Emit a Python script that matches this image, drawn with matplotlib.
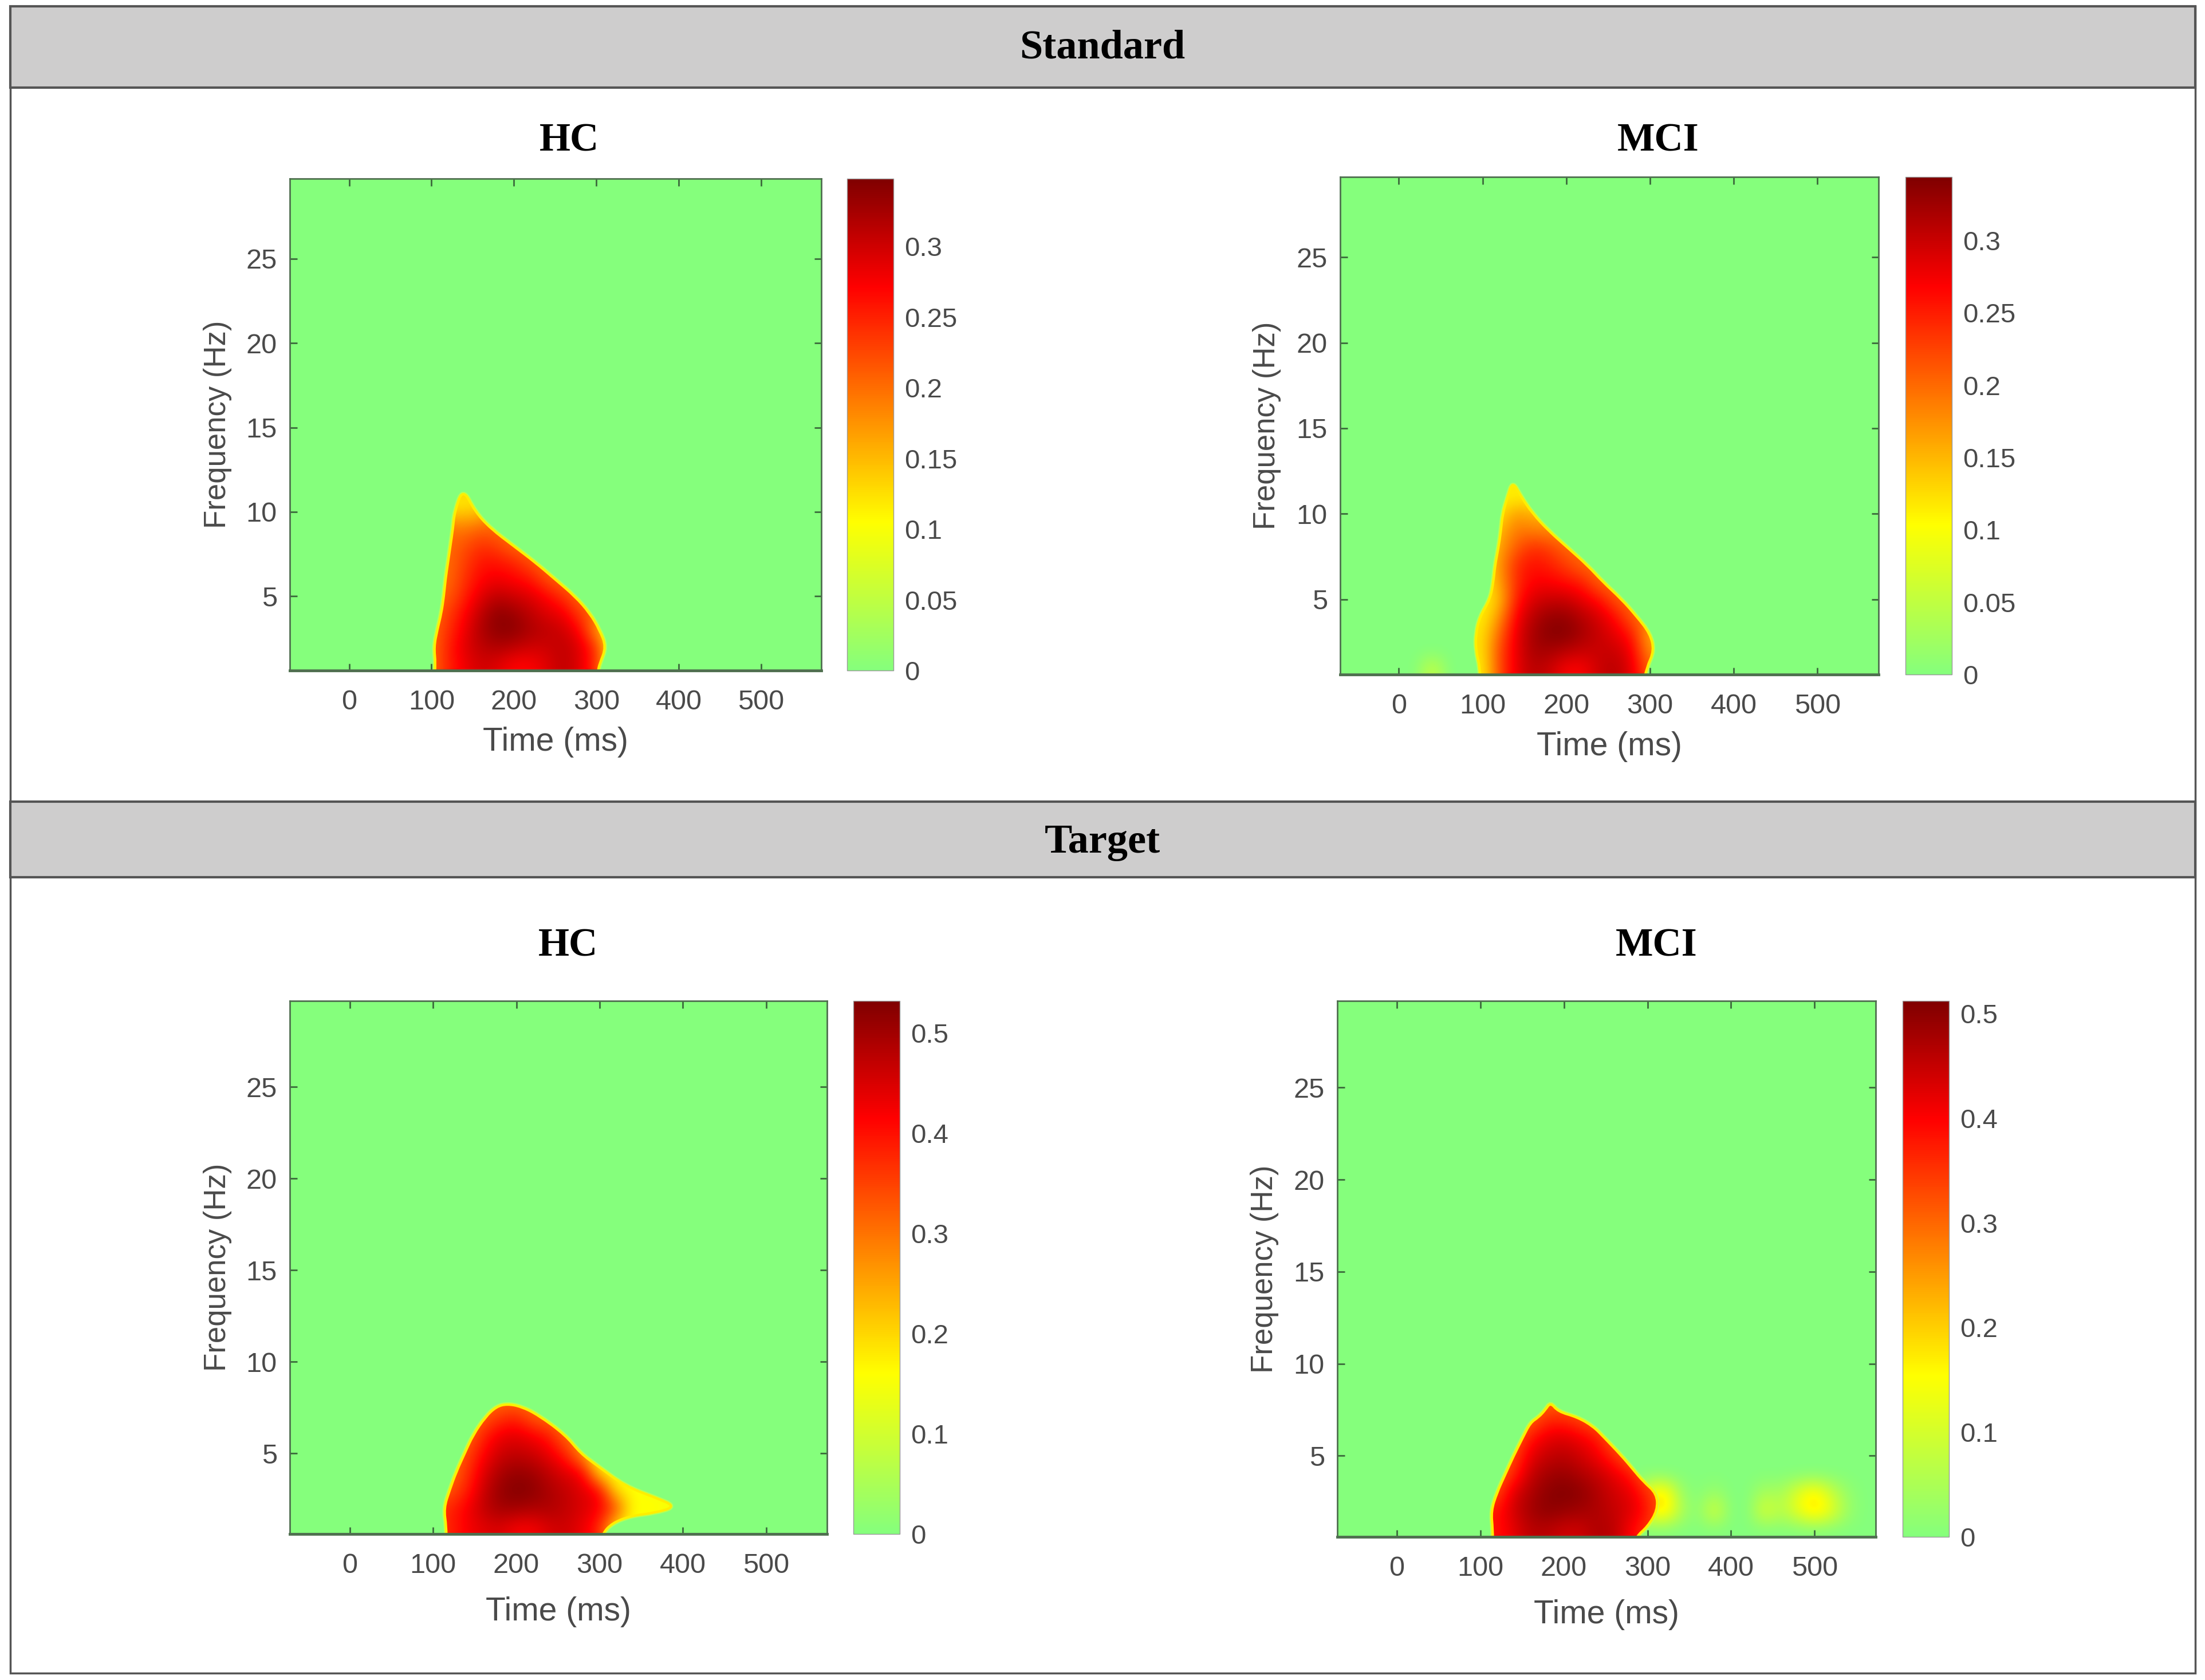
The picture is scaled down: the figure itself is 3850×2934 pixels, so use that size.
import numpy as np
import matplotlib
matplotlib.use('Agg')
import matplotlib.pyplot as plt
from matplotlib.colors import LinearSegmentedColormap
from matplotlib.patches import PathPatch, Rectangle
from matplotlib.path import Path

sections = ['Standard', 'Target']
groups = ['HC', 'MCI', 'HC', 'MCI']

time_ticks = [0, 100, 200, 300, 400, 500]
freq_ticks = [5, 10, 15, 20, 25]
time_limits = [(-72, 573), (-70, 573), (-72, 573), (-71, 573)]
freq_limits = [(0.6, 29.75), (0.6, 29.7), (0.6, 29.7), (0.6, 29.7)]

cbar_tops = [0.348, 0.344, 0.532, 0.512]
cbar_ticks = [
    [0, 0.05, 0.1, 0.15, 0.2, 0.25, 0.3],
    [0, 0.05, 0.1, 0.15, 0.2, 0.25, 0.3],
    [0, 0.1, 0.2, 0.3, 0.4, 0.5],
    [0, 0.1, 0.2, 0.3, 0.4, 0.5],
]
cbar_labels = [
    ['0', '0.05', '0.1', '0.15', '0.2', '0.25', '0.3'],
    ['0', '0.05', '0.1', '0.15', '0.2', '0.25', '0.3'],
    ['0', '0.1', '0.2', '0.3', '0.4', '0.5'],
    ['0', '0.1', '0.2', '0.3', '0.4', '0.5'],
]

# power: one row per Hz from 1 Hz up, 20 ms steps from 100 ms
standard_hc = [
    [.20, .25, .28, .30, .29, .27, .27, .29, .31, .29, .24, .10, .10],
    [.20, .25, .29, .31, .32, .31, .30, .30, .31, .29, .24, .10, .10],
    [.20, .24, .28, .32, .34, .34, .32, .31, .30, .27, .17, .10, .10],
    [.20, .23, .27, .31, .34, .33, .31, .29, .28, .23],
    [.20, .21, .25, .29, .31, .30, .29, .27, .24],
    [.20, .20, .24, .27, .28, .27, .26, .22],
    [.20, .20, .23, .26, .26, .25, .22],
    [.20, .20, .22, .24, .23, .20],
    [.20, .20, .19, .21, .20],
    [.13, .13, .14, .14],
    [.11, .11, .11, .11],
]
standard_mci = [
    [.11, .22, .28, .31, .30, .27, .27, .30, .31, .28, .20, .20, .20],
    [.12, .22, .28, .32, .32, .31, .30, .30, .30, .27, .17, .17, .17],
    [.12, .20, .28, .32, .34, .34, .32, .30, .28, .25, .15, .15, .15],
    [.11, .17, .27, .31, .33, .33, .31, .29, .26, .20, .20, .20],
    [.11, .14, .25, .29, .30, .30, .28, .26, .21, .20, .20],
    [.11, .16, .24, .27, .27, .26, .25, .20, .20, .20],
    [.11, .17, .24, .26, .25, .23, .20, .20, .20],
    [.11, .16, .21, .24, .23, .20, .20, .20],
    [.11, .15, .19, .19, .18, .18, .18],
    [.11, .12, .17, .15, .15, .15],
    [.11, .11, .11, .11, .11],
]
target_hc = [
    [.36, .38, .42, .44, .45, .42, .42, .45, .46, .43, .38, .18, .15, .15, .15, .15],
    [.36, .38, .42, .47, .50, .50, .49, .49, .47, .45, .42, .35, .15, .17, .15, .15],
    [.30, .33, .38, .46, .51, .53, .52, .49, .47, .44, .42, .18, .16, .15, .15, .15],
    [.30, .30, .36, .44, .49, .51, .50, .47, .44, .42, .18, .15, .15, .15, .15, .15],
    [.30, .30, .34, .41, .46, .47, .46, .43, .38, .25, .15, .15, .15, .15, .15, .15],
    [.30, .30, .30, .38, .43, .44, .42, .39, .30],
    [.30, .30, .30, .32, .36, .38, .32, .30],
]
target_mci = [
    [.38, .38, .42, .46, .46, .44, .44, .47, .46, .40, .35],
    [.38, .38, .44, .48, .50, .49, .48, .47, .45, .43, .38, .30],
    [.30, .33, .43, .47, .50, .51, .50, .47, .44, .42, .36, .30],
    [.30, .30, .36, .45, .48, .49, .47, .45, .42, .38, .30],
    [.30, .30, .33, .42, .45, .46, .44, .41, .36, .30],
    [.30, .30, .30, .38, .42, .43, .41, .38, .30],
    [.30, .30, .30, .30, .36, .36, .33, .30],
]
panel_values = [standard_hc, standard_mci, target_hc, target_mci]
rim_values = [.20, .12, .30, .30]

# outer edge of each significant cluster (ms, Hz)
standard_hc_time = [103, 105, 103, 107, 112, 115, 117, 120, 123, 126, 128, 138, 153, 172, 199,
                    226, 250, 274, 292, 304, 312, 304, 302, 302]
standard_hc_freq = [0, 1, 2, 3, 4, 5, 6, 7, 8, 9, 10, 11.4, 10, 9, 8, 7, 6, 5, 4, 3, 2, 1, .6, 0]

standard_mci_time = [97, 97, 92, 92, 97, 109, 113, 115, 119, 122, 124, 130, 136, 146, 160, 179,
                     202, 225, 244, 266, 284, 300, 305, 296, 292]
standard_mci_freq = [0, 1, 2, 3, 4, 5, 6, 7, 8, 9, 10, 11, 11.9, 11, 10, 9, 8, 7, 6, 5, 4, 3, 2,
                     1, 0]

target_hc_time = [116, 116, 113, 120, 128, 138, 148, 163, 176, 189, 206, 226, 259, 277, 298, 331,
                  366, 392, 366, 338, 315, 303, 303]
target_hc_freq = [0, 1, 2, 3, 4, 5, 6, 7, 7.55, 7.7, 7.55, 7.1, 6, 5, 4.3, 3.2, 2.6, 2.1, 1.75,
                  1.6, 1.2, .6, 0]

target_mci_time = [115, 115, 113, 120, 130, 140, 151, 160, 170, 178, 184, 193, 216, 235, 248, 269,
                   282, 295, 311, 312, 300, 286, 286]
target_mci_freq = [0, 1, 2, 3, 4, 5, 6, 6.8, 7.1, 7.5, 7.9, 7.4, 7.1, 6.6, 6, 5, 4.3, 3.6, 2.95,
                   2.05, 1.15, .6, 0]

outline_times = [standard_hc_time, standard_mci_time, target_hc_time, target_mci_time]
outline_freqs = [standard_hc_freq, standard_mci_freq, target_hc_freq, target_mci_freq]

# small patches outside the main cluster, 20 ms steps from 300 ms (40 ms for the standard one)
standard_mci_spot = [[.06]]
target_mci_spots = [
    [],
    [.16, .20, .06, 0, .12, 0, 0, .12, .06, .13, .20, .13, .03],
    [.14, .20, .03, 0, .03, 0, 0, .05, .04, .12, .18, .09, .02],
]
spots = [[], standard_mci_spot, [], target_mci_spots]
spot_starts = [0, 40, 0, 300]

# pixel boxes: left, top, right, bottom
ax_boxes = [(506, 312, 1434, 1171), (2340, 309, 3280, 1178),
            (506, 1748, 1444, 2679), (2335, 1748, 3275, 2684)]
cb_boxes = [(1479, 312, 1560, 1171), (3327, 309, 3408, 1178),
            (1490, 1748, 1571, 2679), (3322, 1748, 3403, 2684)]
title_pos = [(994, 247), (2895, 247), (992, 1652), (2892, 1652)]
xlabel_y = [1296, 1304, 2815, 2820]
ylabel_x = [380, 2212, 380, 2208]

W, H = 3850, 2934
grey = '#4a4a4a'
serif = 'Liberation Serif'
sans = 'Liberation Sans'
extent = (-90, 590, 0.5, 30.5)

cmap = LinearSegmentedColormap.from_list(
    'jet_top', [(0, '#85ff7c'), (0.3, '#ffff00'), (0.78, '#ff0000'), (1, '#800000')])


def box_rect(box):
    return [box[0]/W, 1 - box[3]/H, (box[2]-box[0])/W, (box[3]-box[1])/H]


def make_grid(rows, start, fill):
    grid = np.full((30, 34), float(fill))
    first = (start + 80)//20
    for i, row in enumerate(rows):
        grid[i, first:first + len(row)] = row
    return grid


def outline_path(times, freqs):
    # read points act as bezier handles so the edge stays rounded
    pts = np.column_stack([times, freqs])
    mids = (pts + np.roll(pts, -1, axis=0))/2
    verts = [mids[-1]]
    codes = [Path.MOVETO]
    for p, m in zip(pts, mids):
        verts += [p, m]
        codes += [Path.CURVE3, Path.CURVE3]
    return Path(verts, codes)


fig = plt.figure(figsize=(38.5, 29.34), dpi=100)

back = fig.add_axes([0, 0, 1, 1], zorder=-1)
back.set_xlim(0, W)
back.set_ylim(H, 0)
back.axis('off')
back.add_patch(Rectangle((18, 11), 3815, 2911, fc='white', ec='#555555', lw=2.5))
back.add_patch(Rectangle((18, 11), 3815, 142, fc='#cecdcd', ec='#555555', lw=3))
back.add_patch(Rectangle((18, 1400), 3815, 132, fc='#cecdcd', ec='#555555', lw=3))
back.text(1925, 84, sections[0], family=serif, weight='bold', size=52,
          ha='center', va='center', color='black')
back.text(1925, 1472, sections[1], family=serif, weight='bold', size=52,
          ha='center', va='center', color='black')

for i in range(4):
    ax = fig.add_axes(box_rect(ax_boxes[i]))
    base = make_grid(spots[i], spot_starts[i], 0)
    im = ax.imshow(base, origin='lower', aspect='auto', cmap=cmap, vmin=0, vmax=cbar_tops[i],
                   extent=extent, interpolation='bicubic')

    # main cluster: clipped to its outline, with the thin yellow rim of the original
    path = outline_path(outline_times[i], outline_freqs[i])
    ax.add_patch(PathPatch(path, fc='none', ec='#d0ff40', lw=6, alpha=0.7))
    main = ax.imshow(make_grid(panel_values[i], 100, rim_values[i]), origin='lower', aspect='auto',
                     cmap=cmap, vmin=0, vmax=cbar_tops[i], extent=extent,
                     interpolation='bicubic', zorder=2)
    main.set_clip_path(PathPatch(path, transform=ax.transData))
    ax.add_patch(PathPatch(path, fc='none', ec='#ffee00', lw=3, zorder=3))

    ax.set_xlim(time_limits[i])
    ax.set_ylim(freq_limits[i])
    ax.set_xticks(time_ticks)
    ax.set_yticks(freq_ticks)
    ax.tick_params(direction='in', top=True, right=True, length=9, width=2, color='#3c6a3c',
                   labelcolor=grey, labelsize=35)
    ax.tick_params(axis='x', pad=24)
    ax.tick_params(axis='y', pad=16)
    for label in ax.get_xticklabels() + ax.get_yticklabels():
        label.set_family(sans)
    for spine in ax.spines.values():
        spine.set_color('#4f6f4f')
        spine.set_linewidth(2)
        spine.set_zorder(5)
    ax.spines['bottom'].set_linewidth(3.5)

    box = ax_boxes[i]
    ax.set_xlabel('Time (ms)', family=sans, size=41, color=grey, va='center')
    ax.xaxis.set_label_coords(0.5, -(xlabel_y[i] - box[3])/(box[3] - box[1]))
    ax.set_ylabel('Frequency (Hz)', family=sans, size=38, color=grey, va='center')
    ax.yaxis.set_label_coords((ylabel_x[i] - box[0])/(box[2] - box[0]), 0.5)

    cax = fig.add_axes(box_rect(cb_boxes[i]))
    cb = fig.colorbar(im, cax=cax, ticks=cbar_ticks[i])
    cb.ax.set_yticklabels(cbar_labels[i], family=sans, size=34, color=grey)
    cb.ax.tick_params(length=0, pad=14)
    cb.outline.set_edgecolor('#999999')
    cb.outline.set_linewidth(1)

    back.text(title_pos[i][0], title_pos[i][1], groups[i], family=serif, weight='bold', size=50,
              ha='center', va='center', color='black')

fig.savefig('out.png', dpi=100)
